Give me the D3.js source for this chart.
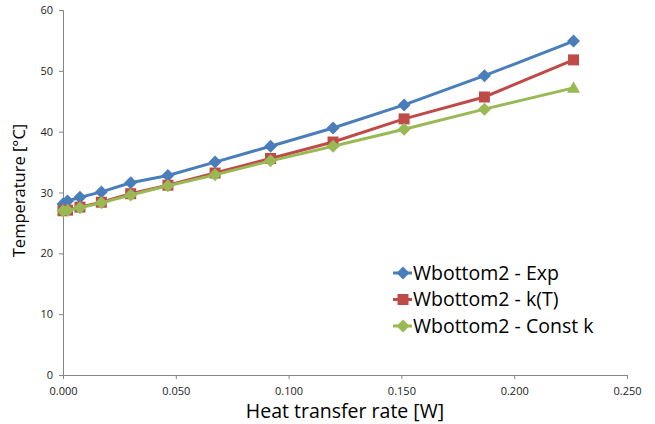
<!doctype html>
<html lang="en">
  <head>
    <meta charset="utf-8">
    <title>Temperature vs heat transfer rate</title>
    <script src="https://d3js.org/d3.v7.min.js"></script>
    <style>
      body { margin: 0; background: #fff; }
      svg { display: block; }
      .axis path, .axis line { stroke: #868686; }
      .axis text { font-family: "Open Sans", sans-serif; font-size: 11px; fill: #222; }
    </style>
  </head>
  <body>
    <div id="chart"></div>
    <script>
      // heat transfer rate [W], shared by the three series
      const rate = [0.000, 0.002, 0.0075, 0.017, 0.030, 0.0465, 0.0674, 0.092, 0.1197, 0.1512, 0.1868, 0.2263];

      // temperatures [°C]
      const exp    = [28.1, 28.6, 29.2, 30.1, 31.6, 32.8, 35.0, 37.6, 40.6, 44.4, 49.2, 54.9];
      const kT     = [27.0, 27.1, 27.6, 28.4, 29.8, 31.2, 33.2, 35.6, 38.3, 42.1, 45.7, 51.8];
      const constK = [27.0, 27.1, 27.5, 28.3, 29.6, 31.1, 32.9, 35.2, 37.6, 40.4, 43.7, 47.2];

      const seriesNames = ["Wbottom2 - Exp", "Wbottom2 - k(T)", "Wbottom2 - Const k"];
      const xTicks = [0, 0.05, 0.1, 0.15, 0.2, 0.25];
      const yTicks = [0, 10, 20, 30, 40, 50, 60];

      const W = 655, H = 424;
      const margin = {top: 10, right: 28, bottom: 49, left: 63};
      const width = W - margin.left - margin.right,
            height = H - margin.top - margin.bottom;

      const series = [
        {name: seriesNames[0], values: exp,    color: "#4a7ebb", shape: "diamond"},
        {name: seriesNames[1], values: kT,     color: "#be4b48", shape: "square"},
        {name: seriesNames[2], values: constK, color: "#98b954", shape: "diamond"}
      ];

      const svg = d3.select("#chart").append("svg")
        .attr("width", W).attr("height", H);
      const g = svg.append("g")
        .attr("transform", `translate(${margin.left},${margin.top})`);

      const x = d3.scaleLinear().domain([0, 0.25]).range([0, width]);
      const y = d3.scaleLinear().domain([0, 60]).range([height, 0]);

      // axes
      g.append("g")
        .attr("class", "axis")
        .attr("transform", `translate(0,${height})`)
        .call(d3.axisBottom(x).tickValues(xTicks).tickFormat(d3.format(".3f")).tickSize(4).tickPadding(8));
      g.append("g")
        .attr("class", "axis")
        .call(d3.axisLeft(y).tickValues(yTicks).tickSize(4).tickPadding(6));

      // axis titles
      g.append("text")
        .attr("x", width / 2)
        .attr("y", height + 43)
        .attr("text-anchor", "middle")
        .style("font-family", "'Open Sans', sans-serif")
        .style("font-size", "19.5px")
        .text("Heat transfer rate [W]");
      g.append("text")
        .attr("transform", `translate(${-38},${height / 2 - 2}) rotate(-90)`)
        .attr("text-anchor", "middle")
        .style("font-family", "'Open Sans', sans-serif")
        .style("font-size", "16.5px")
        .text("Temperature [°C]");

      const line = d3.line()
        .x((d, i) => x(rate[i]))
        .y(d => y(d));

      // wide diamond (square turned 45°), like the spreadsheet markers
      const diamond = r => `M0,${-r}L${r},0L0,${r}L${-r},0Z`;
      const square = r => `M${-r},${-r}H${r}V${r}H${-r}Z`;
      const triangle = r => `M0,${-r}L${r},${r * 0.75}H${-r}Z`;
      const shapePath = s => s === "square" ? square(5.5) : diamond(6.5);

      series.forEach(s => {
        g.append("path")
          .datum(s.values)
          .attr("fill", "none")
          .attr("stroke", s.color)
          .attr("stroke-width", 3)
          .attr("stroke-linejoin", "round")
          .attr("d", line);

        g.selectAll(null)
          .data(s.values)
          .join("path")
          .attr("transform", (d, i) => `translate(${x(rate[i])},${y(d)})`)
          .attr("fill", s.color)
          .attr("d", (d, i) => {
            // last constant-k point is drawn as a triangle in the original
            if (s === series[2] && i === s.values.length - 1) return triangle(6.5);
            return shapePath(s.shape);
          });
      });

      // legend
      const legend = svg.append("g").attr("transform", "translate(393,273)");
      series.forEach((s, i) => {
        const row = legend.append("g").attr("transform", `translate(0,${i * 26.5})`);
        row.append("line")
          .attr("x1", 0).attr("x2", 19)
          .attr("stroke", s.color).attr("stroke-width", 3);
        row.append("path")
          .attr("transform", "translate(10,0)")
          .attr("fill", s.color)
          .attr("d", shapePath(s.shape));
        row.append("text")
          .attr("x", 20)
          .attr("dy", "0.35em")
          .style("font-family", "'Open Sans', sans-serif")
          .style("font-size", "19.5px")
          .text(s.name);
      });
    </script>
  </body>
</html>
